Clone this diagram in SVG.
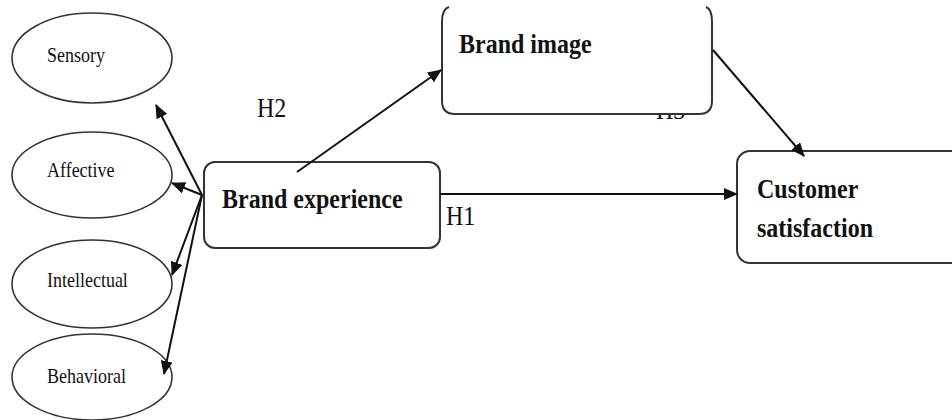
<svg xmlns="http://www.w3.org/2000/svg" width="952" height="420" viewBox="0 0 952 420">
<defs>
<marker id="ah" markerWidth="14" markerHeight="12" refX="13" refY="6" orient="auto" markerUnits="userSpaceOnUse">
<path d="M0,0 L14,6 L0,12 Z" fill="#111"/>
</marker>
<style>
.el{fill:#fff;stroke:#333;stroke-width:1.6}
.box{fill:#fff;stroke:#333;stroke-width:2}
.t{font-family:"Liberation Serif","Times New Roman",serif;fill:#111}
.s{font-size:18px}
.b{font-size:24px;font-weight:bold}
.h{font-size:24px}
.c{stroke:#111;stroke-width:2;fill:none;marker-end:url(#ah)}
</style>
</defs>
<rect width="952" height="420" fill="#fff"/>
<text class="t h" transform="translate(656,119) scale(1,1.15)">H3</text>
<g id="sensory"><ellipse class="el" cx="92" cy="58" rx="80" ry="45"/><text class="t s" transform="translate(47,62) scale(1,1.15)">Sensory</text></g>
<g id="affective"><ellipse class="el" cx="92" cy="175" rx="80" ry="43"/><text class="t s" transform="translate(47,177) scale(1,1.15)">Affective</text></g>
<g id="intellectual"><ellipse class="el" cx="92" cy="284" rx="80" ry="44"/><text class="t s" transform="translate(47,287) scale(1,1.15)">Intellectual</text></g>
<g id="behavioral"><ellipse class="el" cx="92" cy="377" rx="80" ry="43"/><text class="t s" transform="translate(47,383) scale(1,1.15)">Behavioral</text></g>
<g id="brand-experience"><rect class="box" x="204" y="162" width="236" height="86" rx="11"/><text class="t b" transform="translate(222,208) scale(1,1.15)">Brand experience</text></g>
<g id="brand-image"><path class="box" d="M449,7 Q442,9 442,22 V101 Q442,114 455,114 H699 Q712,114 712,101 V22 Q712,9 706,7"/><text class="t b" transform="translate(459,53) scale(1,1.15)">Brand image</text></g>
<g id="customer-satisfaction"><rect class="box" x="737" y="151" width="240" height="112" rx="13"/><text class="t b" transform="translate(757,198) scale(1,1.15)">Customer</text><text class="t b" transform="translate(757,237) scale(1,1.15)">satisfaction</text></g>
<g id="connectors">
<line class="c" x1="202" y1="195" x2="156" y2="105"/>
<line class="c" x1="202" y1="195" x2="172" y2="183"/>
<line class="c" x1="202" y1="195" x2="172" y2="275"/>
<line class="c" x1="202" y1="195" x2="164" y2="374"/>
<line class="c" x1="297" y1="172" x2="441" y2="70"/>
<line class="c" x1="440" y1="194" x2="737" y2="194"/>
<line class="c" x1="713" y1="50" x2="804" y2="156"/>
</g>
<text class="t h" transform="translate(257,117) scale(1,1.15)">H2</text>
<text class="t h" transform="translate(446,225) scale(1,1.15)">H1</text>
</svg>
